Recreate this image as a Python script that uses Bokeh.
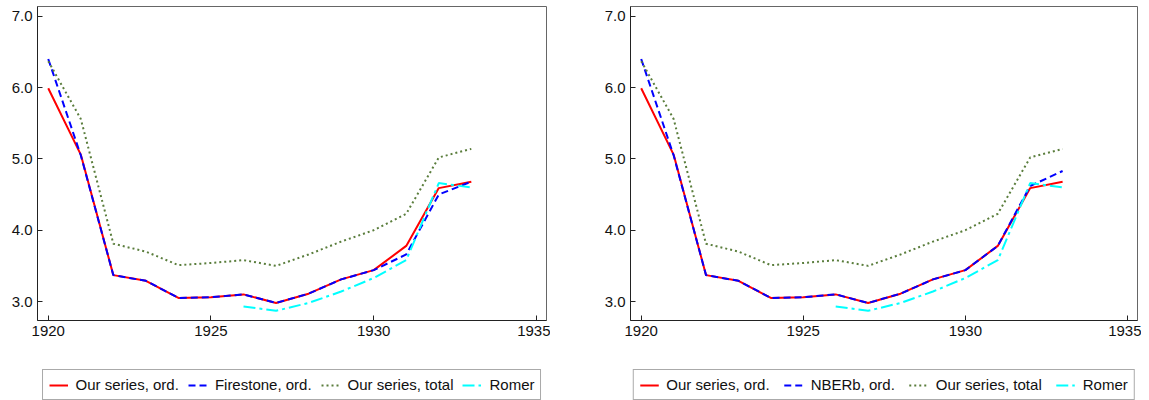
from bokeh.plotting import figure
from bokeh.layouts import row, column
from bokeh.models import FixedTicker, NumeralTickFormatter, Legend, LegendItem, Range1d
from bokeh.embed import file_html
from bokeh.resources import INLINE

years = [1920, 1921, 1922, 1923, 1924, 1925, 1926, 1927, 1928, 1929, 1930, 1931, 1932, 1933]
our_ord = [5.99, 5.06, 3.37, 3.29, 3.05, 3.06, 3.10, 2.98, 3.11, 3.31, 3.44, 3.78, 4.59, 4.68]
firestone_ord = [6.40, 5.05, 3.37, 3.29, 3.05, 3.06, 3.10, 2.98, 3.11, 3.31, 3.44, 3.66, 4.50, 4.68]
nberb_ord = [6.40, 5.05, 3.37, 3.29, 3.05, 3.06, 3.10, 2.98, 3.11, 3.31, 3.44, 3.78, 4.62, 4.83]
our_total = [6.37, 5.56, 3.81, 3.70, 3.51, 3.54, 3.58, 3.50, 3.66, 3.84, 4.00, 4.23, 5.02, 5.14]
romer_years = [1926, 1927, 1928, 1929, 1930, 1931, 1932, 1933]
romer = [2.93, 2.87, 2.98, 3.14, 3.33, 3.58, 4.66, 4.60]

x_ticks = [1920, 1925, 1930, 1935]
y_ticks = [3.0, 4.0, 5.0, 6.0, 7.0]
legend_labels_left = ["Our series, ord.", "Firestone, ord.", "Our series, total", "Romer"]
legend_labels_right = ["Our series, ord.", "NBERb, ord.", "Our series, total", "Romer"]

FONT = "Liberation Sans"
STYLES = [
    dict(line_color="#ff0000", line_width=2),
    dict(line_color="#0000ff", line_width=2, line_dash="7 4"),
    dict(line_color="#5a7d3c", line_width=2, line_dash="2 3"),
    dict(line_color="#00ffff", line_width=2, line_dash="12 4 3 4"),
]


def series_list(second_vals):
    return [(years, our_ord), (years, second_vals), (years, our_total), (romer_years, romer)]


def make_panel(second_vals, border_left, fw):
    p = figure(frame_width=fw, frame_height=314,
               min_border_left=border_left, min_border_right=4,
               min_border_top=6, min_border_bottom=47,
               x_range=(1919.67, 1935.31), y_range=(2.734, 7.136),
               output_backend="svg", toolbar_location=None)
    p.xgrid.visible = False
    p.ygrid.visible = False
    p.outline_line_color = "#666666"
    p.outline_line_width = 1
    p.axis.axis_line_color = "#222222"
    p.axis.major_tick_in = 5
    p.axis.major_tick_out = 0
    p.axis.minor_tick_in = 0
    p.axis.minor_tick_out = 0
    p.axis.major_tick_line_color = "#222222"
    p.axis.major_label_text_font = FONT
    p.axis.major_label_text_font_size = "15px"
    p.axis.major_label_text_color = "#111111"
    p.axis.major_label_standoff = 5
    p.xaxis.ticker = FixedTicker(ticks=x_ticks)
    p.yaxis.ticker = FixedTicker(ticks=y_ticks)
    p.yaxis.formatter = NumeralTickFormatter(format="0.0")

    for (xs, ys), st in zip(series_list(second_vals), STYLES):
        p.line(xs, ys, **st)
    return p


def make_legend(labels, second_vals, border_left, fw, spacing):
    # legend strip: the series are drawn outside its (hidden) ranges, only the legend shows
    q = figure(frame_width=fw, frame_height=33,
               min_border_left=border_left, min_border_right=4,
               min_border_top=0, min_border_bottom=0,
               x_range=Range1d(0, 1), y_range=Range1d(0, 1),
               output_backend="svg", toolbar_location=None)
    q.axis.visible = False
    q.xgrid.visible = False
    q.ygrid.visible = False
    q.outline_line_color = None
    rs = [q.line(xs, ys, **st) for (xs, ys), st in zip(series_list(second_vals), STYLES)]
    legend = Legend(items=[LegendItem(label=lab, renderers=[r]) for lab, r in zip(labels, rs)],
                    orientation="horizontal", location="bottom_center")
    legend.label_text_font = FONT
    legend.label_text_font_size = "15px"
    legend.label_text_color = "#111111"
    legend.glyph_width = 19
    legend.glyph_height = 14
    legend.label_height = 14
    legend.label_standoff = 8
    legend.spacing = spacing
    legend.padding = 6
    legend.margin = 0
    legend.border_line_color = "#555555"
    legend.border_line_width = 1
    legend.background_fill_alpha = 1
    q.add_layout(legend, "center")
    return q


p1 = make_panel(firestone_ord, 37, 509)
p2 = make_panel(nberb_ord, 80, 507)
l1 = make_legend(legend_labels_left, firestone_ord, 37, 509, 9)
l2 = make_legend(legend_labels_right, nberb_ord, 80, 507, 14)
layout = column(row(p1, p2), row(l1, l2))

open("out.html", "w").write(file_html(layout, INLINE))
